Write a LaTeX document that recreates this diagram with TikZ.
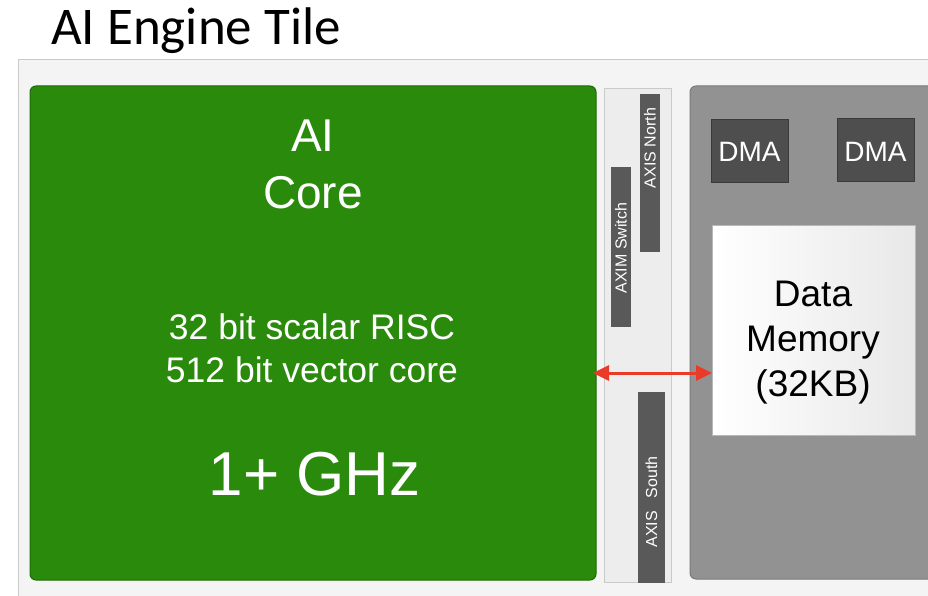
\documentclass[tikz,border=0pt]{standalone}
\usepackage{fontspec}
\setmainfont{Liberation Sans}
\newfontfamily\titlefont{Carlito}
\usetikzlibrary{arrows.meta}
\definecolor{tilebg}{HTML}{F4F4F4}
\definecolor{tileline}{HTML}{CACACA}
\definecolor{coregreen}{HTML}{2A8A0C}
\definecolor{coreline}{HTML}{1F6A08}
\definecolor{memgray}{HTML}{929292}
\definecolor{memline}{HTML}{7A7A7A}
\definecolor{bardark}{HTML}{595959}
\definecolor{dmafill}{HTML}{4E4E4E}
\definecolor{dmaline}{HTML}{3A3A3A}
\definecolor{linkred}{HTML}{EA3A2A}
\tikzset{
  box/.style={anchor=north west, inner sep=0pt, outer sep=0pt},
  bar/.style={box, fill=bardark},
  barlabel/.style={rotate=90, text=white, inner sep=0pt, font=\fontsize{16pt}{18pt}\selectfont},
  dmabox/.style={box, fill=dmafill, draw=dmaline, line width=1pt, minimum width=77pt, minimum height=63pt},
  whitetext/.style={text=white, align=center, inner sep=0pt, anchor=base},
}
\begin{document}
\begin{tikzpicture}[x=1pt, y=-1pt]
\useasboundingbox (0,0) rectangle (928,596);
\clip (0,0) rectangle (928,596);
\fill[white] (0,0) rectangle (928,596);

% title
\node[anchor=base west, inner sep=0pt, font=\titlefont\fontsize{53pt}{60pt}\selectfont] (title) at (51,45) {AI Engine Tile};

% tile frame
\node[box, fill=tilebg, draw=tileline, line width=1pt, minimum width=930pt, minimum height=560pt] (tile) at (18,60) {};

% AI core (multi-line labels are placed by the baseline of their last line)
\node[box, fill=coregreen, draw=coreline, line width=1pt, rounded corners=6pt, minimum width=566pt, minimum height=494pt] (core) at (30,86) {};
\node[whitetext, font=\fontsize{46pt}{57pt}\selectfont] (coretitle) at (313,208) {AI\\Core};
\node[whitetext, font=\fontsize{35.5pt}{43pt}\selectfont] (isa) at (312,382) {32 bit scalar RISC\\512 bit vector core};
\node[whitetext, font=\fontsize{62pt}{70pt}\selectfont] (clock) at (314.5,495) {1+ GHz};

% stream / memory-mapped switch column
\node[box, fill=tilebg!97!black, draw=tileline, line width=1pt, minimum width=67pt, minimum height=493pt] (switch) at (604,89) {};
\node[bar, minimum width=20pt, minimum height=158pt] (axisn) at (640,94) {};
\node[barlabel] (axisnlabel) at (650,148) {AXIS North};
\node[bar, minimum width=20pt, minimum height=160pt] (axim) at (611,167) {};
\node[barlabel] (aximlabel) at (621,248) {AXIM Switch};
\node[bar, minimum width=27pt, minimum height=191pt] (axiss) at (638,392) {};
\node[barlabel] (axisslabel) at (651.5,502) {AXIS\hspace{13pt}South};

% memory module
\node[box, fill=memgray, draw=memline, line width=1pt, rounded corners=6pt, minimum width=260pt, minimum height=493pt] (memtile) at (690,86) {};
\node[dmabox] (dma1) at (711,120) {};
\node[text=white, font=\fontsize{28pt}{32pt}\selectfont, anchor=base, inner sep=0pt] (dma1label) at (749.5,161) {DMA};
\node[dmabox] (dma2) at (837,119) {};
\node[text=white, font=\fontsize{28pt}{32pt}\selectfont, anchor=base, inner sep=0pt] (dma2label) at (875.5,161) {DMA};
\node[box, left color=white, right color=black!9, draw=black!28, line width=1pt, minimum width=203pt, minimum height=210pt] (mem) at (712,225) {};
\node[align=center, inner sep=0pt, anchor=base, font=\fontsize{37pt}{45pt}\selectfont] (memlabel) at (813,396) {Data\\Memory\\(32KB)};

% core <-> data memory link
\coordinate (linky) at (0,373);
\draw[linkred, line width=3pt, {Triangle[length=16pt,width=15pt]}-{Triangle[length=16pt,width=15pt]}]
  ([xshift=-3pt]core.east |- linky) -- (mem.west |- linky);
\end{tikzpicture}
\end{document}
